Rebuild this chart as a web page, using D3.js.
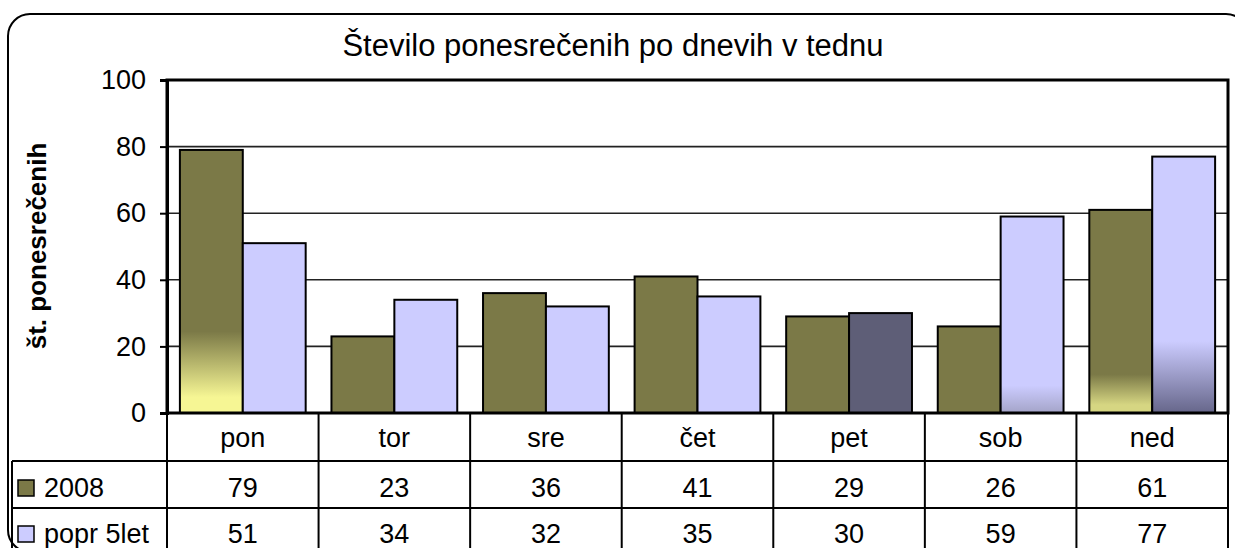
<!DOCTYPE html>
<html>
<head>
<meta charset="utf-8">
<script src="https://cdn.jsdelivr.net/npm/d3@7"></script>
<style>
  body { margin: 0; background: #fff; }
  svg { display: block; font-family: "Liberation Sans", Arial, sans-serif; }
</style>
</head>
<body>
<svg id="chart" width="1235" height="548"></svg>
<script>
// data
const days = ["pon", "tor", "sre", "čet", "pet", "sob", "ned"];
const seriesNames = ["2008", "popr 5let"];
const values2008 = [79, 23, 36, 41, 29, 26, 61];
const valuesPopr = [51, 34, 32, 35, 30, 59, 77];
const yTicks = [0, 20, 40, 60, 80, 100];

const colors = ["#7b7947", "#ccccff"];
// odd fills seen in the original render (series index, day index)
const specialFills = [
  {s: 0, d: 0, id: "g0", stops: [[0, "#7b7947"], [0.69, "#7b7947"], [0.94, "#f6f694"], [1, "#f6f694"]]},
  {s: 0, d: 6, id: "g1", stops: [[0, "#7b7947"], [0.81, "#7b7947"], [0.96, "#d6d682"], [1, "#d6d682"]]},
  {s: 1, d: 5, id: "g2", stops: [[0, "#ccccff"], [0.86, "#ccccff"], [1, "#a4a4c8"]]},
  {s: 1, d: 6, id: "g3", stops: [[0, "#ccccff"], [0.72, "#ccccff"], [1, "#66668a"]]},
  {s: 1, d: 4, id: "solid", color: "#5e5e77"}
];

const svg = d3.select("#chart");
const plot = {left: 167, right: 1228, top: 80, bottom: 413};
const rowY = [413, 461, 508, 560];
const tableLeft = 12;

const x = d3.scaleBand().domain(days).range([plot.left, plot.right]).paddingInner(0).paddingOuter(0);
const xs = d3.scaleBand().domain([0, 1]).range([0, x.bandwidth()]).paddingInner(0).paddingOuter(0.205);
const y = d3.scaleLinear().domain([0, 100]).range([plot.bottom, plot.top]);

// gradients
const defs = svg.append("defs");
specialFills.filter(f => f.stops).forEach(f => {
  let g = defs.append("linearGradient").attr("id", f.id)
    .attr("x1", 0).attr("y1", 0).attr("x2", 0).attr("y2", 1);
  f.stops.forEach(s => g.append("stop").attr("offset", s[0]).attr("stop-color", s[1]));
});

function fillFor(s, d) {
  let f = specialFills.find(o => o.s === s && o.d === d);
  if (!f) return colors[s];
  if (f.color) return f.color;
  return "url(#" + f.id + ")";
}

// outer chart border
svg.append("rect")
  .attr("x", 8).attr("y", 14).attr("width", 1240).attr("height", 538)
  .attr("rx", 22).attr("ry", 22)
  .attr("fill", "none").attr("stroke", "#000").attr("stroke-width", 2);

// title
svg.append("text")
  .attr("x", 613).attr("y", 56)
  .attr("text-anchor", "middle")
  .style("font-size", "31px")
  .text("Število ponesrečenih po dnevih v tednu");

// gridlines
svg.append("g").selectAll("line")
  .data(yTicks.filter(t => t > 0 && t < 100))
  .enter().append("line")
  .attr("x1", plot.left).attr("x2", plot.right)
  .attr("y1", d => y(d)).attr("y2", d => y(d))
  .attr("stroke", "#222").attr("stroke-width", 1.6);

// bars
const series = [values2008, valuesPopr];
series.forEach((vals, s) => {
  svg.append("g").selectAll("rect")
    .data(vals)
    .enter().append("rect")
    .attr("x", (d, i) => x(days[i]) + xs(s))
    .attr("y", d => y(d))
    .attr("width", xs.bandwidth())
    .attr("height", d => y(0) - y(d))
    .attr("fill", (d, i) => fillFor(s, i))
    .attr("stroke", "#000").attr("stroke-width", 2);
});

// plot frame
svg.append("rect")
  .attr("x", plot.left).attr("y", plot.top)
  .attr("width", plot.right - plot.left).attr("height", plot.bottom - plot.top)
  .attr("fill", "none").attr("stroke", "#000").attr("stroke-width", 3);

// y axis
const yAxis = d3.axisLeft(y).tickValues(yTicks).tickSize(7).tickPadding(14);
const ya = svg.append("g").attr("transform", "translate(" + plot.left + ",0)").call(yAxis);
ya.select(".domain").attr("stroke-width", 3);
ya.selectAll(".tick line").attr("stroke-width", 2);
ya.selectAll(".tick text").style("font-size", "27px").attr("fill", "#000")
  .attr("font-family", "Liberation Sans, Arial, sans-serif");

// y axis title
svg.append("text")
  .attr("transform", "translate(46,246) rotate(-90)")
  .attr("text-anchor", "middle")
  .style("font-size", "26px").style("font-weight", "bold")
  .text("št. ponesrečenih");

// data table
const table = svg.append("g").attr("stroke", "#000").attr("stroke-width", 2);
// horizontal row lines
table.selectAll("line.h").data([rowY[1], rowY[2]]).enter().append("line")
  .attr("x1", tableLeft).attr("x2", plot.right)
  .attr("y1", d => d).attr("y2", d => d);
// left border of legend rows
table.append("line").attr("x1", tableLeft).attr("x2", tableLeft)
  .attr("y1", rowY[1]).attr("y2", rowY[3]);
// vertical column lines
const colEdges = days.map(d => x(d)).concat([plot.right]);
table.selectAll("line.v").data(colEdges).enter().append("line")
  .attr("x1", d => d).attr("x2", d => d)
  .attr("y1", plot.bottom).attr("y2", rowY[3]);

// category labels
svg.append("g").selectAll("text").data(days).enter().append("text")
  .attr("x", d => x(d) + x.bandwidth() / 2)
  .attr("y", 447)
  .attr("text-anchor", "middle").style("font-size", "27px")
  .text(d => d);

// value rows
const rowBase = [497, 543];
series.forEach((vals, s) => {
  svg.append("g").selectAll("text").data(vals).enter().append("text")
    .attr("x", (d, i) => x(days[i]) + x.bandwidth() / 2)
    .attr("y", rowBase[s])
    .attr("text-anchor", "middle").style("font-size", "27px")
    .text(d => d);
  svg.append("rect")
    .attr("x", 18).attr("y", rowBase[s] - 17)
    .attr("width", 16).attr("height", 16)
    .attr("fill", colors[s]).attr("stroke", "#000").attr("stroke-width", 1.5);
  svg.append("text")
    .attr("x", 44).attr("y", rowBase[s])
    .style("font-size", "27px")
    .text(seriesNames[s]);
});
</script>
</body>
</html>
